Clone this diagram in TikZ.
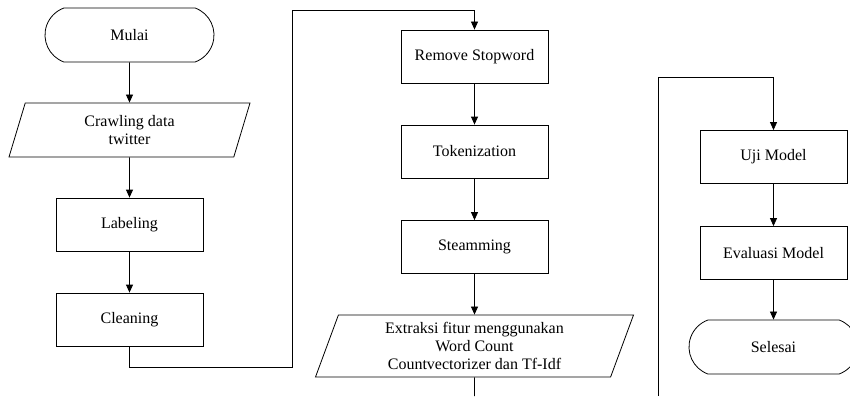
\documentclass[tikz,border=0pt]{standalone}
\usepackage{fontspec}
\setmainfont{Liberation Serif}
\usetikzlibrary{shapes.geometric,shapes.misc,arrows.meta}

\tikzset{
	flow/.style={draw, line width=0.8pt, align=center, inner sep=2pt,
		font=\fontsize{16}{18}\selectfont},
	terminal/.style={flow, rounded rectangle, rounded rectangle arc length=140,
		minimum width=173pt, minimum height=54pt},
	process/.style={flow, rectangle, minimum width=147pt, minimum height=53pt},
	io/.style={flow, trapezium, trapezium stretches body,
		trapezium left angle=64, trapezium right angle=116},
	link/.style={line width=0.8pt},
	arr/.style={link, -{Triangle[width=7pt,length=8pt]}}
}

\begin{document}
\begin{tikzpicture}[x=1pt, y=-1pt]
	\useasboundingbox (0,0) rectangle (850,396);

	% kolom 1
	\node [terminal] (mulai) at (129.5,35) {Mulai};
	\node [io, minimum width=241pt, minimum height=54pt] (crawl) at (129.5,130) {Crawling data\\twitter};
	\node [process] (label) at (129.5,224.5) {Labeling};
	\node [process] (clean) at (129.5,319.5) {Cleaning};

	% kolom 2
	\node [process] (stop) at (474.5,56.5) {Remove Stopword};
	\node [process] (token) at (474.5,151.5) {Tokenization};
	\node [process] (steam) at (474.5,247) {Steamming};
	\node [io, trapezium left angle=66, trapezium right angle=114,
		minimum width=318pt, minimum height=62pt] (fitur) at (474.5,346)
		{Extraksi fitur menggunakan\\Word Count\\Countvectorizer dan Tf-Idf};

	% kolom 3
	\node [process] (uji) at (773.5,157) {Uji Model};
	\node [process] (eval) at (773.5,253) {Evaluasi Model};
	\node [terminal] (selesai) at (773.5,347) {Selesai};

	\coordinate (fiturEnd) at (474.5,396);
	\coordinate (ujiStart) at (658,396);

	\draw [arr] (mulai) -- (crawl);
	\draw [arr] (crawl) -- (label);
	\draw [arr] (label) -- (clean);
	\draw [arr] (clean.south) -- ++(0,21) -| (292,10) -| (stop.north);

	\draw [arr] (stop) -- (token);
	\draw [arr] (token) -- (steam);
	\draw [arr] (steam) -- (fitur);
	\draw [link] (fitur.south) -- (fiturEnd);

	\draw [arr] (ujiStart) |- (773.5,77) -- (uji.north);
	\draw [arr] (uji) -- (eval);
	\draw [arr] (eval) -- (selesai);

\end{tikzpicture}
\end{document}
